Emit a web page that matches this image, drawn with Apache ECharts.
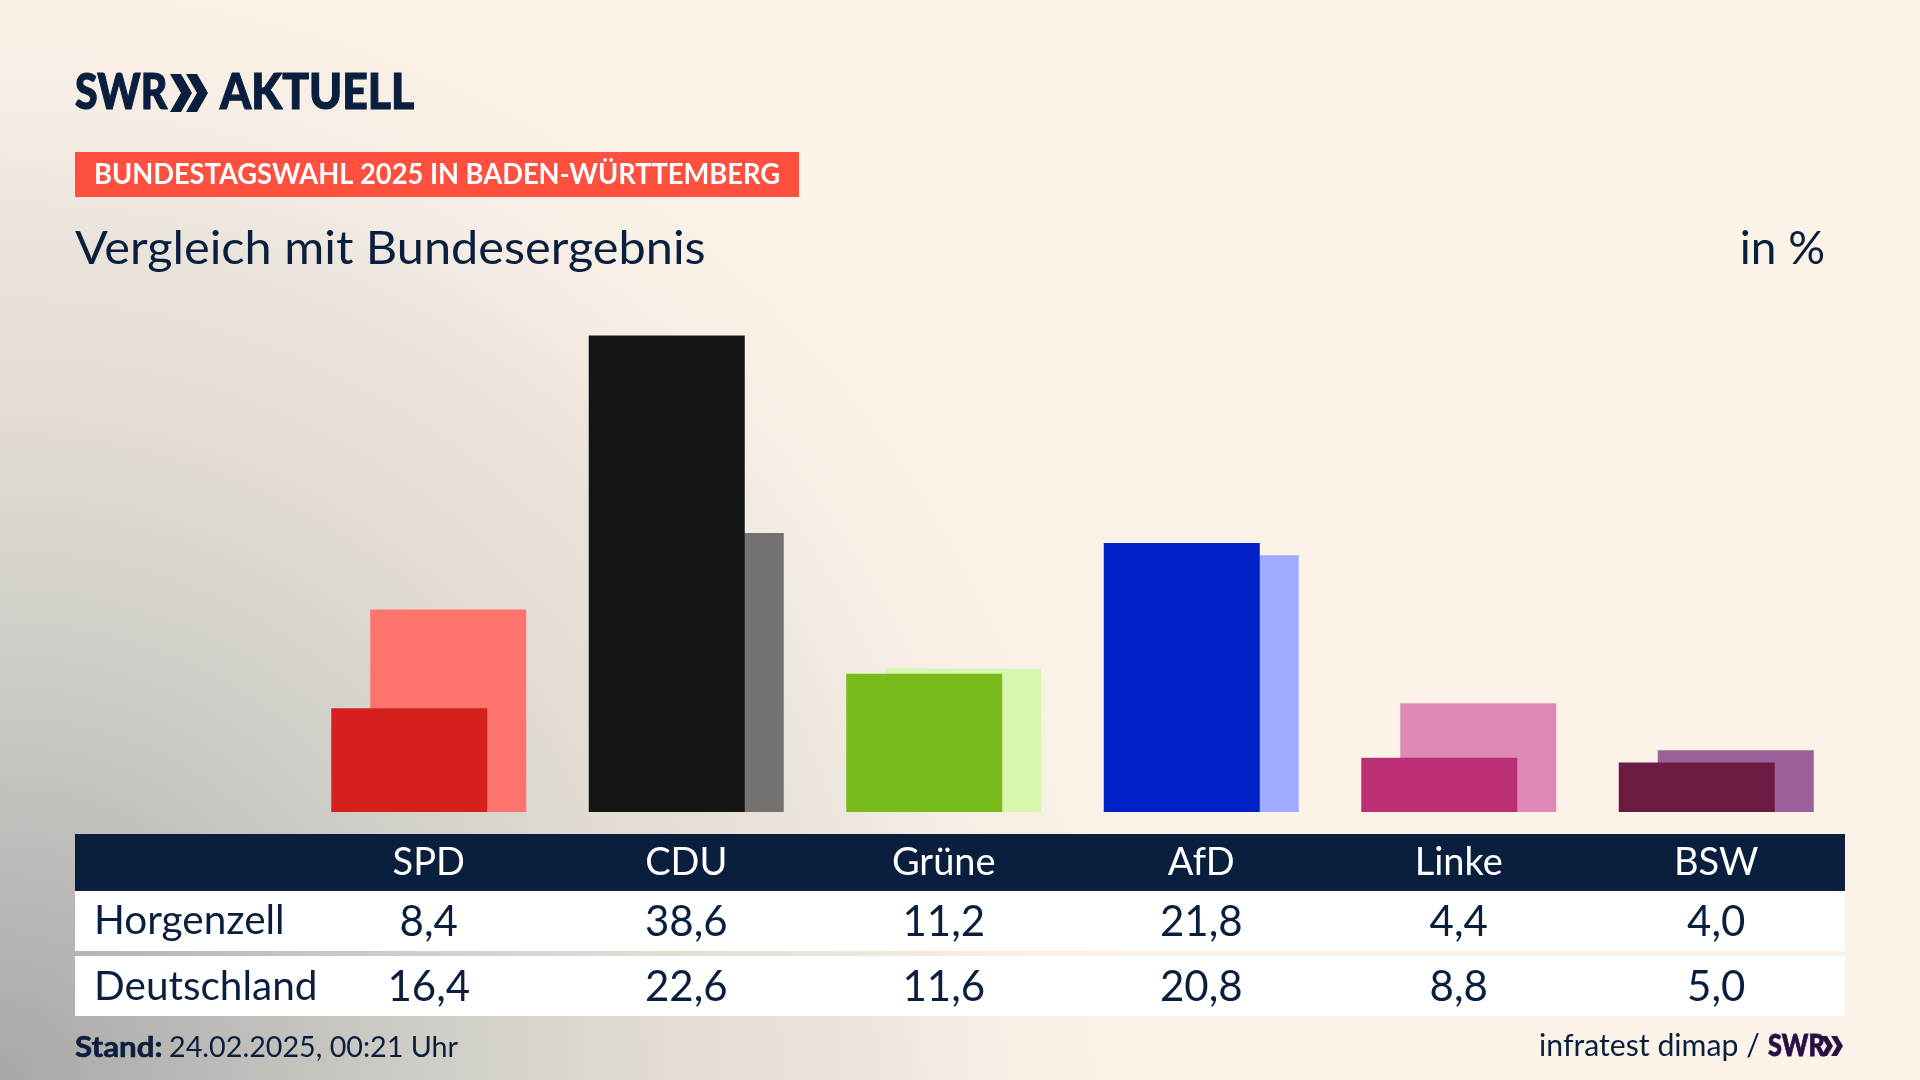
<!DOCTYPE html>
<html><head><meta charset="utf-8">
<style>html,body{margin:0;padding:0;background:#FBF2E8}#c{width:1920px;height:1080px}</style>
<script src="https://cdn.jsdelivr.net/npm/echarts@6/dist/echarts.min.js"></script>
</head><body><div id="c"></div>
<script>
const categories = ['SPD','CDU','Grüne','AfD','Linke','BSW'];
const horgenzell = [8.4,38.6,11.2,21.8,4.4,4.0];
const deutschland = [16.4,22.6,11.6,20.8,8.8,5.0];
const rowNames = ['Horgenzell','Deutschland'];
const darkColors = ['#D6201E','#141414','#78BC1B','#0020C8','#BB2F74','#6B1B42'];
const lightColors = ['#FF736D','#737270','#D8F7AD','#9FACFF','#E088B6','#9C609A'];
const INK = '#0A1E3E';
const FONT = 'Lato';
const fmt = v => v.toFixed(1).replace('.',',');

function axis(data, color, margin, size){
  return {type:'category', data:data, position:'bottom', z:5,
    axisLine:{show:false}, axisTick:{show:false}, splitLine:{show:false},
    axisLabel:{show:true, interval:0, color:color, fontFamily:FONT, fontSize:size, margin:margin, verticalAlign:'middle', align:'center'}};
}
function txt(x,y,text,size,weight,fill,align,scaleX,stroke){
  const style = {text:text, font:weight+' '+size+'px '+FONT, fill:fill, textAlign:align||'left', textVerticalAlign:'middle'};
  if(stroke){style.stroke=fill; style.lineWidth=stroke;}
  return {type:'text', x:x, y:y, z:10, scaleX:scaleX||1, originX:0, style:style};
}
function rect(x,y,w,h,fill){
  return {type:'rect', z:1, shape:{x:x,y:y,width:w,height:h}, style:{fill:fill}};
}
function chevron(x,y,w,h,t,fill){
  return {type:'polygon', z:10, shape:{points:[[x,y],[x+t,y],[x+w,y+h/2],[x+t,y+h],[x,y+h],[x+w-t,y+h/2]]}, style:{fill:fill}};
}
const chart = echarts.init(document.getElementById('c'), null, {renderer:'canvas', width:1920, height:1080});
chart.setOption({
  animation:false,
  backgroundColor:'#FBF2E8',
  grid:{left:300, width:1545, top:318.2, height:493.8, containLabel:false},
  xAxis:[
    axis(categories,'#FFFFFF',51,38),
    axis(horgenzell.map(fmt),INK,110,42),
    axis(deutschland.map(fmt),INK,175,42)
  ],
  yAxis:{type:'value', min:0, max:40, show:false},
  series:[
    {name:'Horgenzell', type:'bar', z:3, barWidth:156, barGap:'-75%', data:horgenzell.map((v,i)=>({value:v,itemStyle:{color:darkColors[i]}}))},
    {name:'Deutschland', type:'bar', z:2, barWidth:156, barGap:'-75%', data:deutschland.map((v,i)=>({value:v,itemStyle:{color:lightColors[i]}}))}
  ],
  graphic:{elements:[
    {type:'rect', z:0, shape:{x:0,y:0,width:1920,height:1080},
      style:{fill:{type:'radial',x:0,y:1,r:1.16,colorStops:[
        {offset:0,color:'#A9A8A5'},{offset:0.2,color:'#BFBEBA'},{offset:0.32,color:'#CECBC6'},{offset:0.53,color:'#E2DCD5'},{offset:0.68,color:'#EBE4DC'},{offset:0.78,color:'#F6EEE4'},{offset:0.92,color:'#FBF2E8'},{offset:1,color:'#FBF2E8'}]}}},
    rect(75,152,724,45,'#FF4F3F'),
    rect(75,834,1770,57,INK),
    rect(75,891,1770,60,'#FFFFFF'),
    rect(75,956,1770,60,'#FFFFFF'),
    txt(75,93,'SWR',50,900,INK,'left',0.82,1.2),
    chevron(170,74,22,38,11,INK),
    chevron(186,74,22,38,11,INK),
    txt(220,93,'AKTUELL',50,900,INK,'left',0.89,1.2),
    txt(94,175,'BUNDESTAGSWAHL 2025 IN BADEN-WÜRTTEMBERG',29,700,'#FFFFFF','left',0.94),
    txt(75,249,'Vergleich mit Bundesergebnis',46,400,INK,'left',1.058),
    txt(1825,249,'in %',46,400,INK,'right'),
    txt(94,921,rowNames[0],40.5,400,INK),
    txt(94,987,rowNames[1],40.5,400,INK),
    txt(75,1048,'Stand:',29,700,INK,'left',1.08,0.6),
    txt(169,1048,'24.02.2025, 00:21 Uhr',29,400,INK,'left',0.99),
    txt(1539,1046,'infratest dimap /',31,400,INK,'left',0.975),
    txt(1768,1046,'SWR',30,900,'#2A0F45','left',0.84,0.8),
    chevron(1821,1036,12,20,6,'#2A0F45'),
    chevron(1831,1036,12,20,6,'#2A0F45')
  ]}
});
</script></body></html>
